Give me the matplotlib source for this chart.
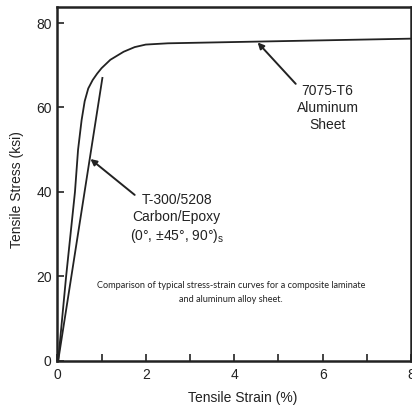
import numpy as np
import matplotlib
matplotlib.use("Agg")
import matplotlib.pyplot as plt

# Stress-strain data
al_strain = [0.02, 0.20, 0.30, 0.40, 0.47, 0.55, 0.62, 0.70, 0.80, 0.90, 1.00, 1.20,
             1.50, 1.75, 2.00, 2.50, 3.00, 4.00, 6.00, 8.00]
al_stress = [0.0, 20.0, 30.0, 40.0, 50.0, 57.0, 61.5, 64.5, 66.5, 68.0, 69.3, 71.3,
             73.2, 74.3, 74.9, 75.2, 75.3, 75.5, 75.9, 76.3]

cf_strain = [0.02, 1.02]
cf_stress = [0.0, 67.0]

x_major = [0, 2, 4, 6, 8]
x_minor = [1, 3, 5, 7]
y_major = [0, 20, 40, 60, 80]

INK = "#222222"

plt.rcParams["font.family"] = ["Liberation Sans", "DejaVu Sans"]

fig = plt.figure(figsize=(4.12, 4.11), dpi=100)
ax = fig.add_axes([0.139, 0.122, 0.859, 0.861])

ax.plot(al_strain, al_stress, color=INK, lw=1.3)
ax.plot(cf_strain, cf_stress, color=INK, lw=1.3)

ax.set_xlim(0, 8)
ax.set_ylim(0, 83.8)
ax.set_xticks(x_major)
ax.set_xticks(x_minor, minor=True)
ax.set_yticks(y_major)
ax.tick_params(which="both", direction="in", length=5, width=1.2, color=INK,
               labelsize=10, labelcolor=INK)
ax.tick_params(axis="x", pad=5)
ax.tick_params(axis="y", pad=4)
for s in ax.spines.values():
    s.set_linewidth(1.8)
    s.set_color(INK)

ax.set_xlabel("Tensile Strain (%)", fontsize=10, color=INK)
ax.set_ylabel("Tensile Stress (ksi)", fontsize=10, color=INK)
ax.xaxis.set_label_coords(0.523, -0.085)
ax.yaxis.set_label_coords(-0.095, 0.483)

# arrows and labels
arrow = dict(arrowstyle="-|>", color=INK, lw=1.4, mutation_scale=9, shrinkA=0, shrinkB=0)
ax.annotate("", xy=(4.53, 75.4), xytext=(5.39, 65.6), arrowprops=arrow)
ax.text(6.11, 59.9, "7075-T6\nAluminum\nSheet", ha="center", va="center",
        fontsize=10, color=INK, linespacing=1.3)

ax.annotate("", xy=(0.75, 47.8), xytext=(1.75, 39.3), arrowprops=arrow)
ax.text(2.70, 33.6, "T-300/5208\nCarbon/Epoxy\n(0°, ±45°, 90°)$_\\mathregular{s}$",
        ha="center", va="center", fontsize=10, color=INK, linespacing=1.25)

ax.text(3.93, 16.1, "Comparison of typical stress-strain curves for a composite laminate\n"
        "and aluminum alloy sheet.", ha="center", va="center", fontsize=6.6,
        family="Lato", color=INK, linespacing=1.7)

fig.savefig("out.png", dpi=100)
